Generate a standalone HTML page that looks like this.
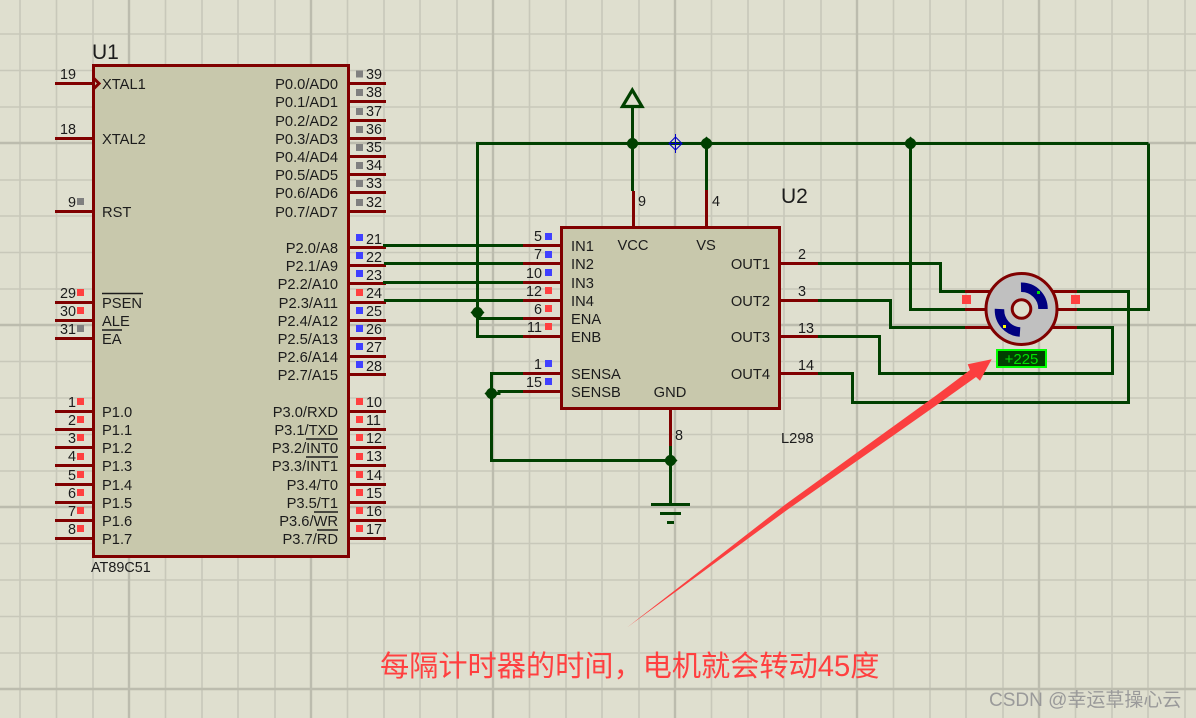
<!DOCTYPE html>
<html><head><meta charset="utf-8"><style>
html,body{margin:0;padding:0;background:#dfdfcf;overflow:hidden}
svg{display:block}
text{font-family:"Liberation Sans",sans-serif;fill:#1c1c1c;font-size:14.7px}
.n{font-size:14.4px}
.e{text-anchor:end}
.m{text-anchor:middle}
</style></head><body>
<svg width="1196" height="718" viewBox="0 0 1196 718" xmlns="http://www.w3.org/2000/svg">
<rect width="1196" height="718" fill="#dfdfcf"/>
<path fill="none" stroke="#c8c8ba" stroke-width="1.600" d="M20 0V718M56.500 0V718M93 0V718M165.500 0V718M202 0V718M238 0V718M275 0V718M347.500 0V718M384 0V718M420 0V718M457 0V718M529.500 0V718M566 0V718M602 0V718M639 0V718M711.500 0V718M748 0V718M784 0V718M821 0V718M893.500 0V718M930 0V718M966 0V718M1003 0V718M1075.500 0V718M1112 0V718M1148 0V718M1185 0V718M0 34H1196M0 70.500H1196M0 107H1196M0 180H1196M0 216H1196M0 252.500H1196M0 289H1196M0 361.500H1196M0 398H1196M0 434.500H1196M0 471H1196M0 543.500H1196M0 580H1196M0 616.500H1196M0 653H1196"/>
<path fill="none" stroke="#bcbcae" stroke-width="2.400" d="M129 0V718M311 0V718M493 0V718M675 0V718M857 0V718M1039 0V718M0 143H1196M0 325H1196M0 507H1196M0 689H1196"/>

<!-- chips -->
<rect x="93.500" y="65.500" width="255" height="491" fill="#c8c8ac" stroke="#800000" stroke-width="3"/>
<rect x="561.500" y="227.500" width="218" height="181" fill="#c8c8ac" stroke="#800000" stroke-width="3"/>

<!-- maroon pins -->
<path fill="none" stroke="#800000" stroke-width="3" d="M55 83.500H93M55 138.500H93M55 211.500H93M55 302.500H93M55 320.500H93M55 338.500H93M55 411.500H93M55 429.500H93M55 447.500H93M55 465.500H93M55 484.500H93M55 502.500H93M55 520.500H93M55 538.500H93
M349 83.500H386M349 101.500H386M349 120.500H386M349 138.500H386M349 156.500H386M349 174.500H386M349 192.500H386M349 211.500H386
M349 247.500H386M349 265.500H386M349 283.500H386M349 302.500H386M349 320.500H386M349 338.500H386M349 356.500H386M349 374.500H386
M349 411.500H386M349 429.500H386M349 447.500H386M349 465.500H386M349 484.500H386M349 502.500H386M349 520.500H386M349 538.500H386
M523 245.500H561M523 263.500H561M523 282.500H561M523 300.500H561M523 318.500H561M523 336.500H561M523 373.500H561M523 391.500H561
M781 263.500H818M781 300.500H818M781 336.500H818M781 373.500H818
M633.500 191V227M706.500 190V227M670.500 410V447"/>
<path fill="none" stroke="#800000" stroke-width="3" d="M94 78.500L99 83.500L94 88.500"/>

<!-- green wires -->
<path fill="none" stroke="#004000" stroke-width="3" d="M383 245.500H523M384 263.500H523M383 282.500H523M384 300.500H523
M1148.500 143.500H477.500V336.500H523M477.500 318.500H523
M632.500 107V143.500M632.500 143.500V191M706.500 143.500V190
M523 373.500H491.500V460.500H670.500M523 391.500H499V393.500H491.500M670.500 446V504
M818 263.500H940.500V291.500H965M818 300.500H890.500V327.500H965
M818 336.500H879.500V373.500H1112.500V327.500H1077M818 373.500H852.500V402.500H1128.500V291.500H1077
M910.500 143.500V309.500H965M1148.500 143.500V309.500H1077
M651 504.500H690M660 513.500H681M667 522.500H674"/>
<path fill="none" stroke="#004000" stroke-width="3.200" d="M622.500 106.500L632.300 90L642 106.500Z"/>
<g fill="#004000">
<path d="M632.500 136.500L639.500 143.500L632.500 150.500L625.500 143.500Z"/><circle cx="632.500" cy="143.500" r="5.500"/>
<path d="M706.500 136.500L713.500 143.500L706.500 150.500L699.500 143.500Z"/><circle cx="706.500" cy="143.500" r="5.500"/>
<path d="M910.500 136.500L917.500 143.500L910.500 150.500L903.500 143.500Z"/><circle cx="910.500" cy="143.500" r="5.500"/>
<path d="M477.500 305.500L484.500 312.500L477.500 319.500L470.500 312.500Z"/><circle cx="477.500" cy="312.500" r="5.500"/>
<path d="M491.500 386.500L498.500 393.500L491.500 400.500L484.500 393.500Z"/><circle cx="491.500" cy="393.500" r="5.500"/>
<path d="M670.500 453.500L677.500 460.500L670.500 467.500L663.500 460.500Z"/><circle cx="670.500" cy="460.500" r="5.500"/>
</g>
<path fill="none" stroke="#0000c8" stroke-width="1" d="M675.500 137L682 143.500L675.500 150L669 143.500ZM675.500 134V153M669 143.500H682"/>

<!-- status squares -->
<path fill="#808080" d="M77 198h7v7h-7zM356 70.500h7v7h-7zM356 89h7v7h-7zM356 108h7v7h-7zM356 126h7v7h-7zM356 144h7v7h-7zM356 162h7v7h-7zM356 180h7v7h-7zM356 199h7v7h-7zM77 325h7v7h-7z"/>
<path fill="#4040ff" d="M356 234h7v7h-7zM356 252h7v7h-7zM356 270h7v7h-7zM356 307h7v7h-7zM356 325h7v7h-7zM356 343h7v7h-7zM356 361h7v7h-7zM545 233h7v7h-7zM545 251h7v7h-7zM545 269h7v7h-7zM545 360h7v7h-7zM545 378h7v7h-7z"/>
<path fill="#ff4040" d="M356 289h7v7h-7zM77 289h7v7h-7zM77 307h7v7h-7zM77 398h7v7h-7zM77 416h7v7h-7zM77 434h7v7h-7zM77 453h7v7h-7zM77 471h7v7h-7zM77 489h7v7h-7zM77 507h7v7h-7zM77 525h7v7h-7zM356 398h7v7h-7zM356 416h7v7h-7zM356 434h7v7h-7zM356 453h7v7h-7zM356 471h7v7h-7zM356 489h7v7h-7zM356 507h7v7h-7zM356 525h7v7h-7zM545 287h7v7h-7zM545 305h7v7h-7zM545 323h7v7h-7zM962 295h9v9h-9zM1071 295h9v9h-9z"/>

<!-- overbars -->
<path fill="none" stroke="#1c1c1c" stroke-width="1.500" d="M102 293.500H143M102 330H122M306 439H338M306 457H338M314 512H338M317 530H338"/>

<!-- U1 text -->
<text x="92" y="59" style="font-size:21px">U1</text>
<text x="91" y="572" style="font-size:14.4px">AT89C51</text>
<text x="102" y="89">XTAL1</text><text x="102" y="144">XTAL2</text><text x="102" y="217">RST</text>
<text x="102" y="308">PSEN</text><text x="102" y="326">ALE</text><text x="102" y="344">EA</text>
<text x="102" y="417">P1.0</text><text x="102" y="435">P1.1</text><text x="102" y="453">P1.2</text><text x="102" y="471">P1.3</text><text x="102" y="490">P1.4</text><text x="102" y="508">P1.5</text><text x="102" y="526">P1.6</text><text x="102" y="544">P1.7</text>
<text class="e" x="338" y="89">P0.0/AD0</text><text class="e" x="338" y="107">P0.1/AD1</text><text class="e" x="338" y="126">P0.2/AD2</text><text class="e" x="338" y="144">P0.3/AD3</text><text class="e" x="338" y="162">P0.4/AD4</text><text class="e" x="338" y="180">P0.5/AD5</text><text class="e" x="338" y="198">P0.6/AD6</text><text class="e" x="338" y="217">P0.7/AD7</text>
<text class="e" x="338" y="253">P2.0/A8</text><text class="e" x="338" y="271">P2.1/A9</text><text class="e" x="338" y="289">P2.2/A10</text><text class="e" x="338" y="308">P2.3/A11</text><text class="e" x="338" y="326">P2.4/A12</text><text class="e" x="338" y="344">P2.5/A13</text><text class="e" x="338" y="362">P2.6/A14</text><text class="e" x="338" y="380">P2.7/A15</text>
<text class="e" x="338" y="417">P3.0/RXD</text><text class="e" x="338" y="435">P3.1/TXD</text><text class="e" x="338" y="453">P3.2/INT0</text><text class="e" x="338" y="471">P3.3/INT1</text><text class="e" x="338" y="490">P3.4/T0</text><text class="e" x="338" y="508">P3.5/T1</text><text class="e" x="338" y="526">P3.6/WR</text><text class="e" x="338" y="544">P3.7/RD</text>
<!-- U1 pin numbers -->
<text class="n e" x="76" y="79">19</text><text class="n e" x="76" y="134">18</text><text class="n e" x="76" y="207">9</text><text class="n e" x="76" y="298">29</text><text class="n e" x="76" y="316">30</text><text class="n e" x="76" y="334">31</text>
<text class="n e" x="76" y="407">1</text><text class="n e" x="76" y="425">2</text><text class="n e" x="76" y="443">3</text><text class="n e" x="76" y="461">4</text><text class="n e" x="76" y="480">5</text><text class="n e" x="76" y="498">6</text><text class="n e" x="76" y="516">7</text><text class="n e" x="76" y="534">8</text>
<text class="n" x="366" y="79">39</text><text class="n" x="366" y="97">38</text><text class="n" x="366" y="116">37</text><text class="n" x="366" y="134">36</text><text class="n" x="366" y="152">35</text><text class="n" x="366" y="170">34</text><text class="n" x="366" y="188">33</text><text class="n" x="366" y="207">32</text>
<text class="n" x="366" y="244">21</text><text class="n" x="366" y="262">22</text><text class="n" x="366" y="280">23</text><text class="n" x="366" y="298">24</text><text class="n" x="366" y="316">25</text><text class="n" x="366" y="334">26</text><text class="n" x="366" y="352">27</text><text class="n" x="366" y="371">28</text>
<text class="n" x="366" y="407">10</text><text class="n" x="366" y="425">11</text><text class="n" x="366" y="443">12</text><text class="n" x="366" y="461">13</text><text class="n" x="366" y="480">14</text><text class="n" x="366" y="498">15</text><text class="n" x="366" y="516">16</text><text class="n" x="366" y="534">17</text>

<!-- U2 text -->
<text x="781" y="203" style="font-size:21px">U2</text>
<text x="781" y="443">L298</text>
<text x="571" y="251">IN1</text><text x="571" y="269">IN2</text><text x="571" y="288">IN3</text><text x="571" y="306">IN4</text><text x="571" y="324">ENA</text><text x="571" y="342">ENB</text><text x="571" y="379">SENSA</text><text x="571" y="397">SENSB</text>
<text class="m" x="633" y="250">VCC</text><text class="m" x="706" y="250">VS</text><text class="m" x="670" y="397">GND</text>
<text class="e" x="770" y="269">OUT1</text><text class="e" x="770" y="306">OUT2</text><text class="e" x="770" y="342">OUT3</text><text class="e" x="770" y="379">OUT4</text>
<text class="n e" x="542" y="241">5</text><text class="n e" x="542" y="259">7</text><text class="n e" x="542" y="278">10</text><text class="n e" x="542" y="296">12</text><text class="n e" x="542" y="314">6</text><text class="n e" x="542" y="332">11</text><text class="n e" x="542" y="369">1</text><text class="n e" x="542" y="387">15</text>
<text class="n" x="638" y="206">9</text><text class="n" x="712" y="206">4</text><text class="n" x="675" y="440">8</text>
<text class="n" x="798" y="259">2</text><text class="n" x="798" y="296">3</text><text class="n" x="798" y="333">13</text><text class="n" x="798" y="370">14</text>

<!-- motor -->
<path fill="none" stroke="#800000" stroke-width="3" d="M965 291.500H992M965 309.500H990M965 327.500H992M1051 291.500H1077M1053 309.500H1077M1051 327.500H1077"/>
<circle cx="1021.500" cy="309" r="35.500" fill="#c0c0c0" stroke="#800000" stroke-width="3"/>
<path fill="none" stroke="#000080" stroke-width="9.500" d="M1021 287.300A21.500 21.500 0 0 1 1043 309M999.500 309A22 22 0 0 0 1020 332"/>
<circle cx="1021.500" cy="309" r="9.300" fill="#dfdfcf" stroke="#800000" stroke-width="3"/>
<rect x="1037" y="291" width="3" height="3" fill="#00e000"/>
<rect x="1003" y="325" width="3" height="3" fill="#ffff00"/>
<rect x="997" y="350" width="49" height="17" fill="#004000" stroke="#00ff00" stroke-width="2"/>
<text class="m" x="1021.500" y="364" style="font-size:15px;fill:#00e000">+225</text>

<!-- annotation -->
<polygon points="627,627.500 786,504 936.700,395 970,370 967.700,364.300 991.700,359.300 980,380.700 976,377 936.700,405 786,510.700" fill="#fb3f3f"/>
<text x="380" y="676" style="font-family:'Liberation Sans','Noto Sans CJK SC',sans-serif;font-size:29.200px;fill:#ff4040">每隔计时器的时间，电机就会转动45度</text>
<text x="989" y="706" style="font-family:'Liberation Sans','Noto Sans CJK SC',sans-serif;font-size:19px;fill:#9a9a9a">CSDN @幸运草操心云</text>
</svg>
</body></html>
